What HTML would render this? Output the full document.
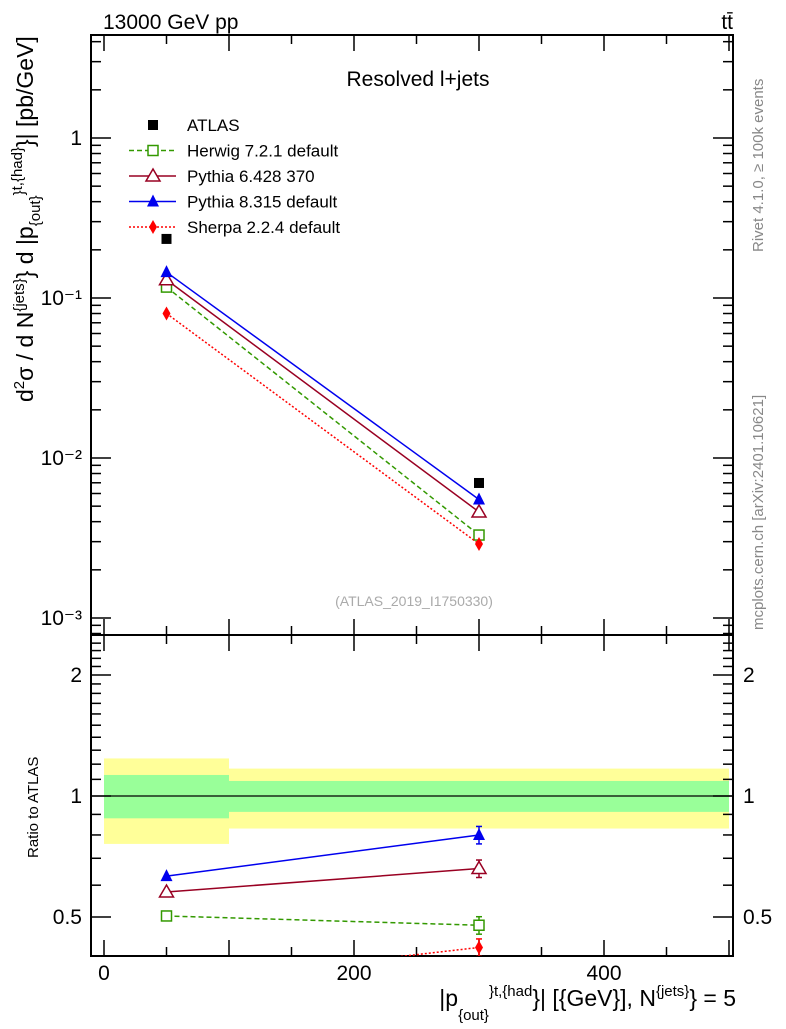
<!DOCTYPE html>
<html><head><meta charset="utf-8"><style>
body{margin:0;background:#fff}
svg{font-family:"Liberation Sans",sans-serif}
</style></head><body>
<svg id="c" width="786" height="1024" viewBox="0 0 786 1024">
<g id="bands"></g>
<g id="axes"></g>
<g id="series"></g>
<text x="103" y="29" font-size="21">13000 GeV pp</text>
<text x="733" y="29" font-size="21" text-anchor="end">tt̄</text>
<text x="418" y="86" font-size="21" text-anchor="middle">Resolved l+jets</text>
<text x="414" y="606" font-size="14" fill="#aaa" text-anchor="middle">(ATLAS_2019_I1750330)</text>
<text transform="translate(763,252) rotate(-90)" font-size="15" fill="#888">Rivet 4.1.0, ≥ 100k events</text>
<text transform="translate(763,630) rotate(-90)" font-size="15" fill="#888">mcplots.cern.ch [arXiv:2401.10621]</text>
<text transform="translate(33,402) rotate(-90)" font-size="23">d<tspan font-size="15" dy="-9">2</tspan><tspan dy="9">σ / d N</tspan><tspan font-size="15" dy="-9">{jets}</tspan><tspan dy="9">} d |p</tspan><tspan font-size="15" dy="7">{out}</tspan><tspan font-size="15" dy="-16">}</tspan><tspan font-size="15" dy="-2">t,{had}</tspan><tspan dy="11">}| [pb/GeV]</tspan></text>
<text transform="translate(38,858) rotate(-90)" font-size="15">Ratio to ATLAS</text>
<text x="736" y="1006" font-size="23" text-anchor="end">|p<tspan font-size="15" dy="14">{out}</tspan><tspan font-size="15" dy="-24">}</tspan><tspan font-size="15">t,{had</tspan><tspan dy="10">}| [{GeV}], N</tspan><tspan font-size="15" dy="-10">{jets}</tspan><tspan dy="10">} = 5</tspan></text>
<g id="legend"></g>
</svg>
<script>
const xCenters=[50,300];
const xBinEdges=[0,100,500];
const atlas=[0.234,0.00698];
const herwig=[0.117,0.0033];
const py6=[0.13,0.0046];
const py8=[0.145,0.0055];
const sherpa=[0.080,0.0029];
const rHerwig=[0.503,0.477];
const rPy6=[0.577,0.66];
const rPy8=[0.632,0.80];
const rSherpa=[0.342,0.42];
const rErr=[0.005,0.05];
const bandYellowLo=[0.76,0.83];
const bandYellowHi=[1.24,1.17];
const bandGreenLo=[0.88,0.913];
const bandGreenHi=[1.128,1.09];
const xTicks=[0,200,400];
const mainTicks=[1,0.1,0.01,0.001];
const mainTickLabels=["1","10⁻¹","10⁻²","10⁻³"];
const ratioTicks=[0.5,1,2];

const NS="http://www.w3.org/2000/svg";
const L=91,R=733,T=35,MB=635,RB=956;
const X=v=>104+v*1.25;
const Y=v=>138-160*Math.log10(v);
const YR=v=>796-402*Math.log10(v);
function mk(p,tag,a){const e=document.createElementNS(NS,tag);for(const k in a)e.setAttribute(k,a[k]);p.appendChild(e);return e;}
const axes=document.getElementById('axes'),bands=document.getElementById('bands'),ser=document.getElementById('series');

for(let i=0;i<2;i++){
 const x0=X(xBinEdges[i]),w=X(xBinEdges[i+1])-x0;
 const y=mk(bands,'rect',{x:x0,y:YR(bandYellowHi[i]),width:w,height:YR(bandYellowLo[i])-YR(bandYellowHi[i]),fill:'#ffff99'});
 
 
 const g=mk(bands,'rect',{x:x0,y:YR(bandGreenHi[i]),width:w,height:YR(bandGreenLo[i])-YR(bandGreenHi[i]),fill:'#99ff99'});
 
 
}
mk(axes,'line',{x1:L,x2:R,y1:YR(1),y2:YR(1),stroke:'#000','stroke-width':1.3});
mk(axes,'rect',{x:L,y:T,width:R-L,height:MB-T,fill:'none',stroke:'#000','stroke-width':2});
mk(axes,'rect',{x:L,y:MB,width:R-L,height:RB-MB,fill:'none',stroke:'#000','stroke-width':2});
for(let v=0;v<=500;v+=50){const big=v%100===0;const l=big?16:9;const x=X(v);
 [[T,T+l],[MB,MB-l],[MB,MB+l],[RB,RB-l]].forEach(([a,b])=>mk(axes,'line',{x1:x,x2:x,y1:a,y2:b,stroke:'#000','stroke-width':1.5}));}
xTicks.forEach(v=>{const t=mk(axes,'text',{x:X(v),y:980,'font-size':21,'text-anchor':'middle'});t.textContent=v;
 
 });
for(let d=-4;d<=0;d++)for(let m=1;m<10;m++){const v=m*Math.pow(10,d);const y=Y(v);if(y<T||y>MB)continue;const l=m===1?20:10;
 mk(axes,'line',{x1:L,x2:L+l,y1:y,y2:y,stroke:'#000','stroke-width':1.5});mk(axes,'line',{x1:R,x2:R-l,y1:y,y2:y,stroke:'#000','stroke-width':1.5});}
mainTicks.forEach((v,i)=>{const t=mk(axes,'text',{x:82,y:Y(v)+7,'font-size':21,'text-anchor':'end'});t.textContent=mainTickLabels[i];
 
 });
for(let v=0.4;v<=2.5;v+=0.1){const y=YR(v);if(y<MB||y>RB)continue;const big=[0.5,1,2].some(q=>Math.abs(q-v)<1e-6);const l=big?20:10;
 mk(axes,'line',{x1:L,x2:L+l,y1:y,y2:y,stroke:'#000','stroke-width':1.5});mk(axes,'line',{x1:R,x2:R-l,y1:y,y2:y,stroke:'#000','stroke-width':1.5});}
ratioTicks.forEach(v=>{[[82,'end'],[743,'start']].forEach(([x,a])=>{const t=mk(axes,'text',{x:x,y:YR(v)+7,'font-size':21,'text-anchor':a});t.textContent=v;
 
 });});

function marker(p,type,x,y,c){
 if(type==='sq')mk(p,'rect',{x:x-5,y:y-5,width:10,height:10,fill:'#fff',stroke:c,'stroke-width':1.5});
 else if(type==='fsq')mk(p,'rect',{x:x-5,y:y-5,width:10,height:10,fill:c});
 else if(type==='tri')mk(p,'polygon',{points:`${x},${y-7} ${x-7},${y+5} ${x+7},${y+5}`,fill:'#fff',stroke:c,'stroke-width':1.5});
 else if(type==='ftri')mk(p,'polygon',{points:`${x},${y-7} ${x-6},${y+5} ${x+6},${y+5}`,fill:c});
 else if(type==='dia')mk(p,'polygon',{points:`${x},${y-7} ${x-4},${y} ${x},${y+7} ${x+4},${y}`,fill:c});
}
const clip=mk(document.getElementById('c'),'clipPath',{id:'rc'});mk(clip,'rect',{x:L,y:MB,width:R-L,height:RB-MB});
const styles=[
 {n:'herwig',d:herwig,r:rHerwig,c:'#339900',m:'sq',dash:'5,3',lab:'Herwig 7.2.1 default'},
 {n:'pythia6',d:py6,r:rPy6,c:'#990022',m:'tri',dash:'',lab:'Pythia 6.428 370'},
 {n:'pythia8',d:py8,r:rPy8,c:'#0000ee',m:'ftri',dash:'',lab:'Pythia 8.315 default'},
 {n:'sherpa',d:sherpa,r:rSherpa,c:'#ff0000',m:'dia',dash:'2,2',lab:'Sherpa 2.2.4 default'}];
styles.forEach(s=>{
 const g=mk(ser,'g',{});
 
 
 mk(g,'polyline',{points:xCenters.map((x,i)=>X(x)+','+Y(s.d[i])).join(' '),fill:'none',stroke:s.c,'stroke-width':1.5,'stroke-dasharray':s.dash});
 xCenters.forEach((x,i)=>marker(g,s.m,X(x),Y(s.d[i]),s.c));
 const gr=mk(ser,'g',{'clip-path':'url(#rc)'});
 
 
 mk(gr,'polyline',{points:xCenters.map((x,i)=>X(x)+','+YR(s.r[i])).join(' '),fill:'none',stroke:s.c,'stroke-width':1.5,'stroke-dasharray':s.dash});
 xCenters.forEach((x,i)=>{const xx=X(x);
  const y1=YR(s.r[i]*(1+rErr[i])),y2=YR(s.r[i]*(1-rErr[i]));
  mk(gr,'line',{x1:xx,x2:xx,y1:y1,y2:y2,stroke:s.c,'stroke-width':1.5});
  if(rErr[i]>0.01){mk(gr,'line',{x1:xx-3,x2:xx+3,y1:y1,y2:y1,stroke:s.c,'stroke-width':1.5});mk(gr,'line',{x1:xx-3,x2:xx+3,y1:y2,y2:y2,stroke:s.c,'stroke-width':1.5});}
  marker(gr,s.m,xx,YR(s.r[i]),s.c);});
});
const ga=mk(ser,'g',{});


xCenters.forEach((x,i)=>marker(ga,'fsq',X(x),Y(atlas[i]),'#000'));
const lg=document.getElementById('legend');
const le=[{m:'fsq',c:'#000',lab:'ATLAS',dash:null}].concat(styles);
le.forEach((s,i)=>{const y=125+i*25.5;const g=mk(lg,'g',{});
 
 
 if(s.dash!==null)mk(g,'line',{x1:129,x2:176,y1:y,y2:y,stroke:s.c,'stroke-width':1.5,'stroke-dasharray':s.dash});
 marker(g,s.m,153,y,s.c);
 const t=mk(g,'text',{x:187,y:y+6,'font-size':17});t.textContent=s.lab;});
</script>
</body></html>
